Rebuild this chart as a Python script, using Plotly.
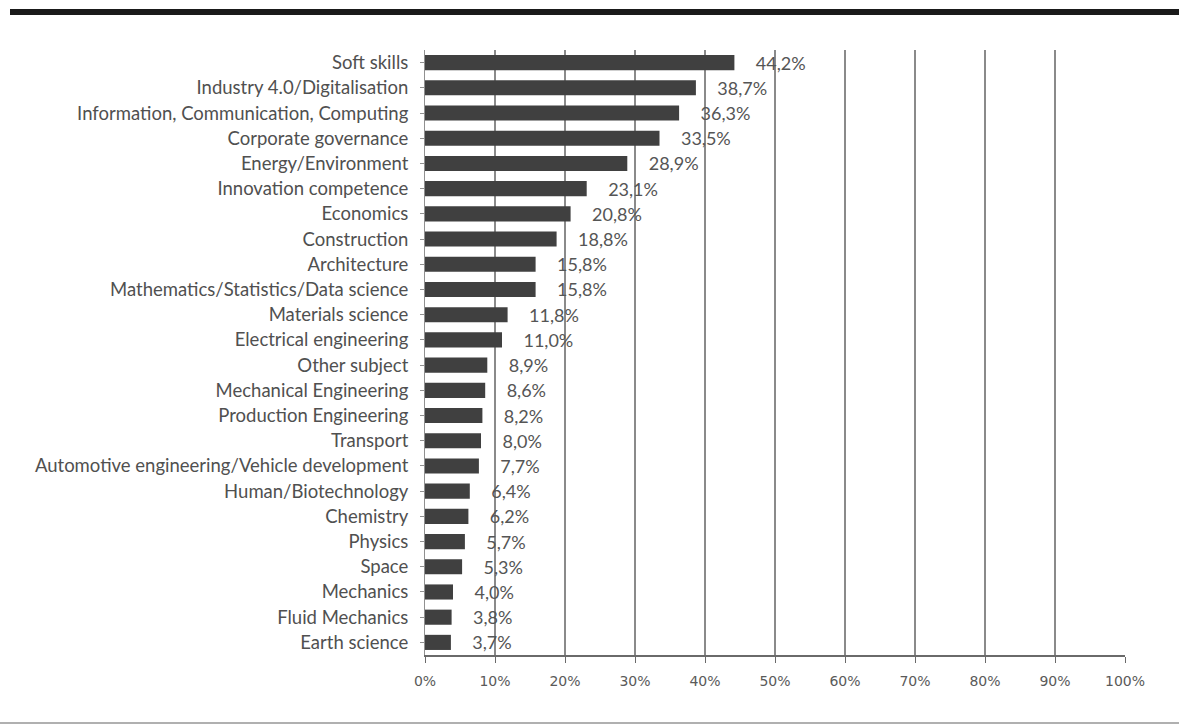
import plotly.graph_objects as go

categories = ["Soft skills", "Industry 4.0/Digitalisation", "Information, Communication, Computing",
              "Corporate governance", "Energy/Environment", "Innovation competence", "Economics",
              "Construction", "Architecture", "Mathematics/Statistics/Data science", "Materials science",
              "Electrical engineering", "Other subject", "Mechanical Engineering", "Production Engineering",
              "Transport", "Automotive engineering/Vehicle development", "Human/Biotechnology", "Chemistry",
              "Physics", "Space", "Mechanics", "Fluid Mechanics", "Earth science"]
values = [44.2, 38.7, 36.3, 33.5, 28.9, 23.1, 20.8, 18.8, 15.8, 15.8, 11.8, 11.0, 8.9, 8.6, 8.2,
          8.0, 7.7, 6.4, 6.2, 5.7, 5.3, 4.0, 3.8, 3.7]
tick_vals = [0, 10, 20, 30, 40, 50, 60, 70, 80, 90, 100]
tick_text = [f"{v}%" for v in tick_vals]

labels = ["\u00a0\u00a0\u00a0\u00a0" + f"{v:.1f}%".replace(".", ",") for v in values]

W, H = 1179, 726
ml, mr, mt, mb = 425, 54, 50, 71
pw, ph = W - ml - mr, H - mt - mb

def px(x):
    return (x - ml) / pw

def py(y):
    return (H - mb - y) / ph

fig = go.Figure(go.Bar(
    y=categories, x=values, orientation="h",
    marker=dict(color="#404040", line=dict(width=0)),
    width=0.6,
    text=labels, textposition="outside", cliponaxis=False, constraintext="none",
    textfont=dict(family="Lato", size=18, color="#555555"),
))

fig.update_layout(
    width=W, height=H,
    margin=dict(l=ml, r=mr, t=mt, b=mb),
    paper_bgcolor="white", plot_bgcolor="white",
    showlegend=False,
    xaxis=dict(range=[0, 100], tickvals=tick_vals, ticktext=tick_text,
               showgrid=True, gridcolor="#8a8a8a", gridwidth=2,
               showline=True, linecolor="#6a6a6a", linewidth=2,
               ticks="outside", tickcolor="#6a6a6a", ticklen=6,
               ticklabelstandoff=6,
               tickfont=dict(family="DejaVu Sans", size=14, color="#5a5a5a"),
               zeroline=False, fixedrange=True),
    yaxis=dict(autorange="reversed", showline=True, linecolor="#909090", linewidth=1,
               ticks="outside", tickcolor="#909090", ticklen=4,
               tickfont=dict(family="Lato", size=18.5, color="#505050"),
               ticklabelstandoff=8, fixedrange=True),
    shapes=[
        dict(type="rect", xref="paper", yref="paper", x0=px(10), x1=px(W), y0=py(15), y1=py(9),
             fillcolor="#1a1a1a", line=dict(width=0), layer="above"),
        dict(type="line", xref="paper", yref="paper", x0=px(0), x1=px(W), y0=py(723), y1=py(723),
             line=dict(color="#b0b0b0", width=2)),
    ],
)

fig.write_html("out.html", config={"displayModeBar": False},
               post_script="document.body.style.margin='0';document.body.style.overflow='hidden';")
